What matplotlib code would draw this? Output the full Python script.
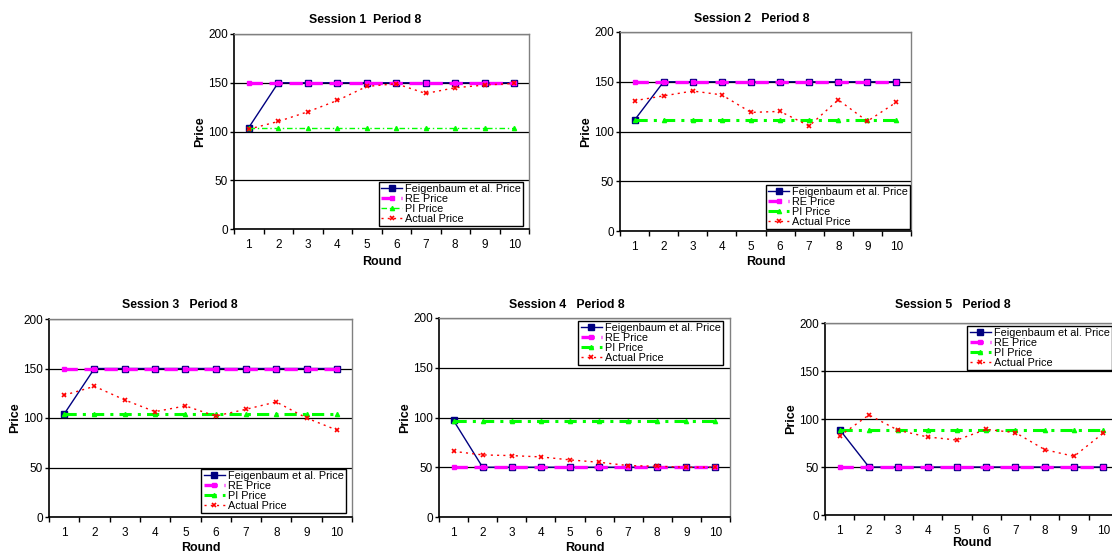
import numpy as np
import matplotlib
matplotlib.use('Agg')
import matplotlib.pyplot as plt

plt.rcParams['font.family'] = ['Liberation Sans', 'DejaVu Sans']

rounds = list(range(1, 11))
titles = ['Session 1  Period 8', 'Session 2   Period 8', 'Session 3   Period 8',
          'Session 4   Period 8', 'Session 5   Period 8']

feig = [
    [104, 150, 150, 150, 150, 150, 150, 150, 150, 150],
    [111.5, 150, 150, 150, 150, 150, 150, 150, 150, 150],
    [104, 150, 150, 150, 150, 150, 150, 150, 150, 150],
    [97, 50, 50, 50, 50, 50, 50, 50, 50, 50],
    [89, 50, 50, 50, 50, 50, 50, 50, 50, 50],
]
re_price = [150, 150, 150, 50, 50]
pi_price = [103.7, 111.3, 103.7, 96, 88.9]
actual = [
    [102.4, 110.3, 120.2, 131.8, 146.2, 149, 139, 144.9, 147.6, 149.3],
    [131, 135.8, 140.7, 136.8, 119.2, 120.2, 105.6, 131.8, 110.3, 129.5],
    [123, 132, 118.2, 106.4, 112.2, 102, 108.8, 116.2, 100, 87.8],
    [66, 62.4, 61.7, 60.4, 57.4, 55, 51.7, 51, 50, 50],
    [82.3, 104.2, 88.2, 81.3, 78.1, 89.2, 85.8, 68.1, 61.1, 85.4],
]
labels = ['Feigenbaum et al. Price', 'RE Price', 'PI Price', 'Actual Price']

W, H = 1112, 558
# plot areas in pixels: left, top, right, bottom
boxes = [(234, 34, 529, 229), (620, 32, 911, 231), (49, 319, 352, 517),
         (439, 318, 730, 517), (825, 323, 1118, 515)]
title_pos = [(365, 20), (752, 19), (180, 305), (567, 305), (953, 305)]
leg_cfg = [('lower right', 0.980, 0.015), ('lower right', 0.997, 0.01),
           ('lower right', 0.980, 0.02), ('upper right', 0.976, 0.985),
           ('upper left', 0.486, 0.984)]
round_dy = [33, 31, 31, 31, 28]

fig = plt.figure(figsize=(W / 100, H / 100), dpi=100)

for k in range(5):
    l, t, r, b = boxes[k]
    ax = fig.add_axes([l / W, (H - b) / H, (r - l) / W, (b - t) / H])
    pi_lw = 1.0 if k == 0 else 2.2
    ax.plot(rounds, feig[k], color='#000080', lw=1.0, marker='s', ms=4.5,
            mfc='#000080', mec='#000080', zorder=3, label=labels[0])
    ax.plot(rounds, [re_price[k]] * 10, color='#FF00FF', lw=2.4,
            dashes=(4, 2), marker='s', ms=3, mec='#FF00FF', zorder=4, label=labels[1])
    ax.plot(rounds, [pi_price[k]] * 10, color='#00FF00', lw=pi_lw,
            dashes=(4, 2, 1, 2), marker='^', ms=3, mec='#00FF00', zorder=4, label=labels[2])
    ax.plot(rounds, actual[k], color='#FF0000', lw=1.0, dashes=(1.5, 3),
            marker='x', ms=3.5, mew=1.2, zorder=5, label=labels[3])

    ax.set_xlim(0.5, 10.5)
    ax.set_ylim(0, 200)
    ax.set_yticks([0, 50, 100, 150, 200])
    ax.set_xticks(rounds)
    ax.set_xticks(np.arange(0.5, 11, 1), minor=True)
    ax.tick_params(axis='x', which='major', length=0, pad=7, labelsize=8.5)
    ax.tick_params(axis='x', which='minor', length=3.5, width=1, direction='out')
    ax.tick_params(axis='y', length=3, width=1, pad=1.5, labelsize=8.5)
    ax.yaxis.grid(True, color='black', lw=0.9)
    ax.set_axisbelow(True)
    for s in ['left', 'bottom']:
        ax.spines[s].set_color('black')
        ax.spines[s].set_linewidth(1.2)
    for s in ['top', 'right']:
        ax.spines[s].set_color('#808080')
        ax.spines[s].set_linewidth(1.0)

    ax.text(-34 / (r - l), 0.5, 'Price', transform=ax.transAxes, rotation=90,
            ha='center', va='center', fontsize=9, fontweight='bold')
    ax.text(0.5, -round_dy[k] / (b - t), 'Round', transform=ax.transAxes,
            ha='center', va='center', fontsize=9, fontweight='bold')
    fig.text(title_pos[k][0] / W, 1 - title_pos[k][1] / H, titles[k],
             ha='center', va='center', fontsize=8.8, fontweight='bold')

    loc, axx, axy = leg_cfg[k]
    leg = ax.legend(loc=loc, bbox_to_anchor=(axx, axy), borderaxespad=0,
                    fontsize=7.8, handlelength=2.0, handletextpad=0.25,
                    labelspacing=0.0, borderpad=0.2, fancybox=False,
                    framealpha=1, edgecolor='black')
    leg.get_frame().set_linewidth(1.0)
    leg.set_zorder(10)

fig.savefig('out.png', dpi=100, facecolor='white')
